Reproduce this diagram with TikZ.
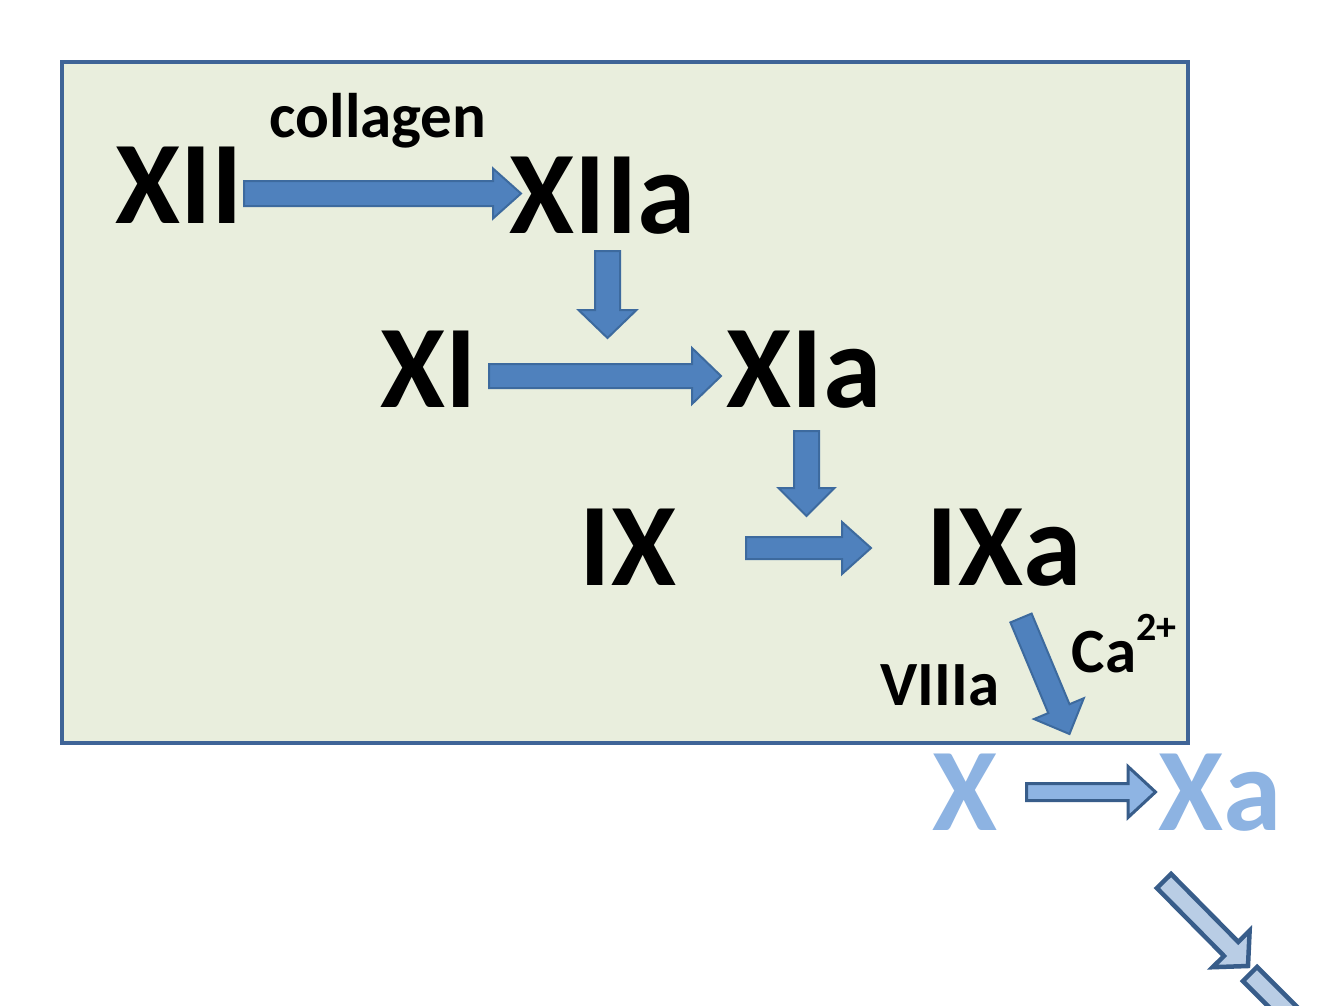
\documentclass[tikz,border=0pt]{standalone}
\usepackage{fontspec}
\setmainfont{Carlito}
\usetikzlibrary{calc}
\definecolor{boxfill}{HTML}{E9EEDD}
\definecolor{boxline}{HTML}{3F6497}
\definecolor{arrfill}{HTML}{4F81BD}
\definecolor{arrline}{HTML}{3D6A9E}
\definecolor{lightfill}{HTML}{8EB4E3}
\definecolor{paleline}{HTML}{385D8A}
\definecolor{palefill}{HTML}{B9CDE5}
\definecolor{xblue}{HTML}{8DB3E2}
\newcommand\blockarrow[6][]{%
  \coordinate (hb) at ($(#3)!#6!(#2)$);
  \filldraw[#1] ($(#2)!#4!90:(#3)$) -- ($(hb)!#4!90:(#3)$) -- ($(hb)!#5!90:(#3)$) -- (#3)
     -- ($(hb)!#5!-90:(#3)$) -- ($(hb)!#4!-90:(#3)$) -- ($(#2)!#4!-90:(#3)$) -- cycle;}
\begin{document}
\begin{tikzpicture}[x=1pt,y=-1pt,
  big/.style={font=\fontsize{118}{118}\selectfont\bfseries, anchor=base, inner sep=0pt},
  small/.style={font=\fontsize{63}{63}\selectfont\bfseries, anchor=base, inner sep=0pt},
  darkarrow/.style={fill=arrfill, draw=arrline, line width=2pt, line join=miter},
  lightarrow/.style={fill=lightfill, draw=paleline, line width=3pt, line join=miter},
  palearrow/.style={fill=palefill, draw=paleline, line width=4.5pt, line join=miter}]
\useasboundingbox (0,0) rectangle (1334,1005);
\fill[white] (0,0) rectangle (1334,1005);
\filldraw[fill=boxfill, draw=boxline, line width=4pt] (62,62) rectangle (1188,743);

\node[big] (XII) at (179,223) {XII};
\node[big] (XIIa) at (603,233) {XIIa};
\node[small] (coll) at (378,137) {collagen};
\node[big] (XI) at (429,407) {XI};
\node[big] (XIa) at (804,407) {XIa};
\node[big] (IX) at (628,585) {IX};
\node[big] (IXa) at (1004,585) {IXa};
\node[small] (VIIIa) at (940,705) {VIIIa};
\node[small] (Ca) at (1124,672) {Ca\raisebox{0.5em}{\fontsize{40}{40}\selectfont 2+}};
\node[big, text=xblue] (X) at (965,830) {X};
\node[big, text=xblue] (Xa) at (1220,830) {Xa};

\coordinate (a1s) at (244,193.5); \coordinate (a1e) at (521,193.5);
\coordinate (a2s) at (607.5,251); \coordinate (a2e) at (607.5,338);
\coordinate (a3s) at (489,376); \coordinate (a3e) at (721,376);
\coordinate (a4s) at (806.5,431); \coordinate (a4e) at (806.5,516);
\coordinate (a5s) at (746,548); \coordinate (a5e) at (871,548);
\coordinate (a6s) at (1021,618); \coordinate (a6e) at (1069.5,734);
\coordinate (a7s) at (1026.5,792); \coordinate (a7e) at (1155.5,792);
\coordinate (a8s) at (1164,881); \coordinate (a8e) at (1248,966);
\coordinate (a9s) at (1250,974); \coordinate (a9e) at (1380,1104);

\blockarrow[darkarrow]{a1s}{a1e}{12.5pt}{25pt}{28pt}
\blockarrow[darkarrow]{a2s}{a2e}{12.5pt}{29pt}{28pt}
\blockarrow[darkarrow]{a3s}{a3e}{12pt}{28pt}{29pt}
\blockarrow[darkarrow]{a4s}{a4e}{12.5pt}{28pt}{28pt}
\blockarrow[darkarrow]{a5s}{a5e}{11pt}{26pt}{29pt}
\blockarrow[darkarrow]{a6s}{a6e}{11.5pt}{27pt}{27.5pt}
\blockarrow[lightarrow]{a7s}{a7e}{8.5pt}{25.5pt}{27.5pt}
\begin{scope}
\clip (0,0) rectangle (1334,1005);
\blockarrow[palearrow]{a8s}{a8e}{10pt}{26pt}{24pt}
\blockarrow[palearrow]{a9s}{a9e}{10pt}{26pt}{24pt}
\end{scope}
\end{tikzpicture}
\end{document}
